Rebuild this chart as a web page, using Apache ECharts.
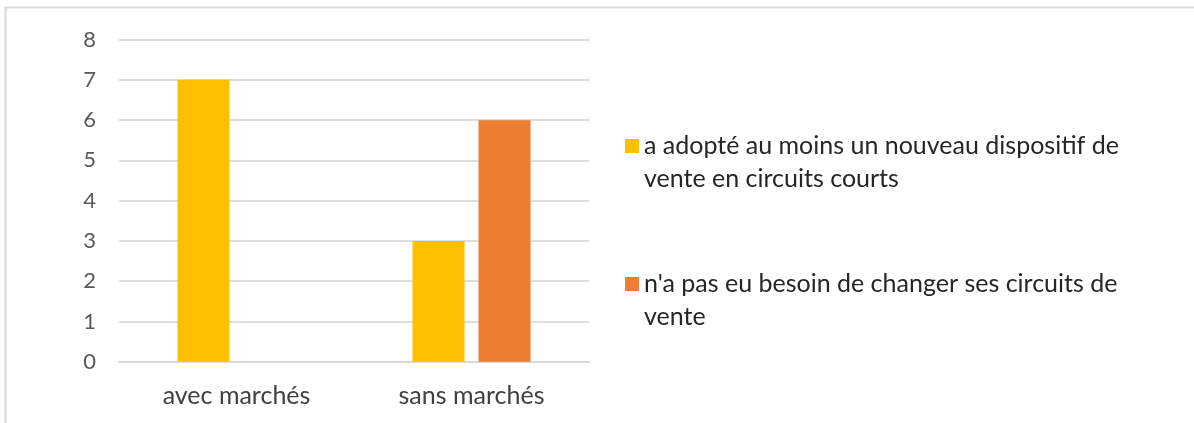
<!DOCTYPE html>
<html>
<head>
<meta charset="utf-8">
<style>
  html, body { margin: 0; padding: 0; background: #ffffff; }
  #chart { width: 1194px; height: 423px; }
</style>
<script src="https://cdn.jsdelivr.net/npm/echarts@6/dist/echarts.min.js"></script>
</head>
<body>
<div id="chart"></div>
<script>
// Categories and series values
const categories = ['avec marchés', 'sans marchés'];
const seriesNames = [
  'a adopté au moins un nouveau dispositif de\nvente en circuits courts',
  "n'a pas eu besoin de changer ses circuits de\nvente"
];
const adoptedValues = [7, 3];
const unchangedValues = [0, 6];
const yTicks = { min: 0, max: 8, interval: 1 };

const FONT = 'Lato, "Open Sans", sans-serif';
const colors = ['#FFC000', '#ED7D31'];
const LEGEND_LINE = 33;

const chart = echarts.init(document.getElementById('chart'), null, { renderer: 'canvas' });

// Each legend entry: the swatch sits beside the first line of the wrapped label.
// A leading blank line keeps the first text line at the swatch's vertical centre.
function legendFor(idx, iconCenterY) {
  return {
    show: true,
    data: [seriesNames[idx]],
    left: 620,
    top: iconCenterY - LEGEND_LINE * 1.5,
    orient: 'vertical',
    icon: 'rect',
    itemWidth: 14,
    itemHeight: 14,
    itemGap: 0,
    selectedMode: false,
    formatter: name => '\n' + name,
    textStyle: {
      fontFamily: FONT,
      fontSize: 25,
      color: '#262626',
      lineHeight: LEGEND_LINE
    }
  };
}

chart.setOption({
  animation: false,
  backgroundColor: '#ffffff',
  color: colors,
  grid: { left: 119, right: 605, top: 39.6, bottom: 61.3, containLabel: false },
  legend: [legendFor(0, 141), legendFor(1, 279)],
  xAxis: {
    type: 'category',
    data: categories,
    axisLine: { show: true, lineStyle: { color: '#d9d9d9', width: 2 } },
    axisTick: { show: false },
    axisLabel: {
      fontFamily: FONT,
      fontSize: 25,
      color: '#404040',
      margin: 22
    }
  },
  yAxis: {
    type: 'value',
    min: yTicks.min,
    max: yTicks.max,
    interval: yTicks.interval,
    axisLine: { show: false },
    axisTick: { show: false },
    splitLine: { lineStyle: { color: '#dedede', width: 2 } },
    axisLabel: {
      fontFamily: FONT,
      fontSize: 22,
      color: '#595959',
      margin: 23
    }
  },
  series: [
    {
      name: seriesNames[0],
      type: 'bar',
      data: adoptedValues,
      barWidth: 52,
      barGap: '27%'
    },
    {
      name: seriesNames[1],
      type: 'bar',
      data: unchangedValues,
      barWidth: 52,
      barGap: '27%'
    }
  ],
  graphic: [
    {
      type: 'polyline',
      shape: { points: [[5.5, 423], [5.5, 7.5], [1194, 7.5]] },
      style: { stroke: '#d9d9d9', lineWidth: 2, fill: null },
      silent: true
    }
  ]
});
</script>
</body>
</html>
